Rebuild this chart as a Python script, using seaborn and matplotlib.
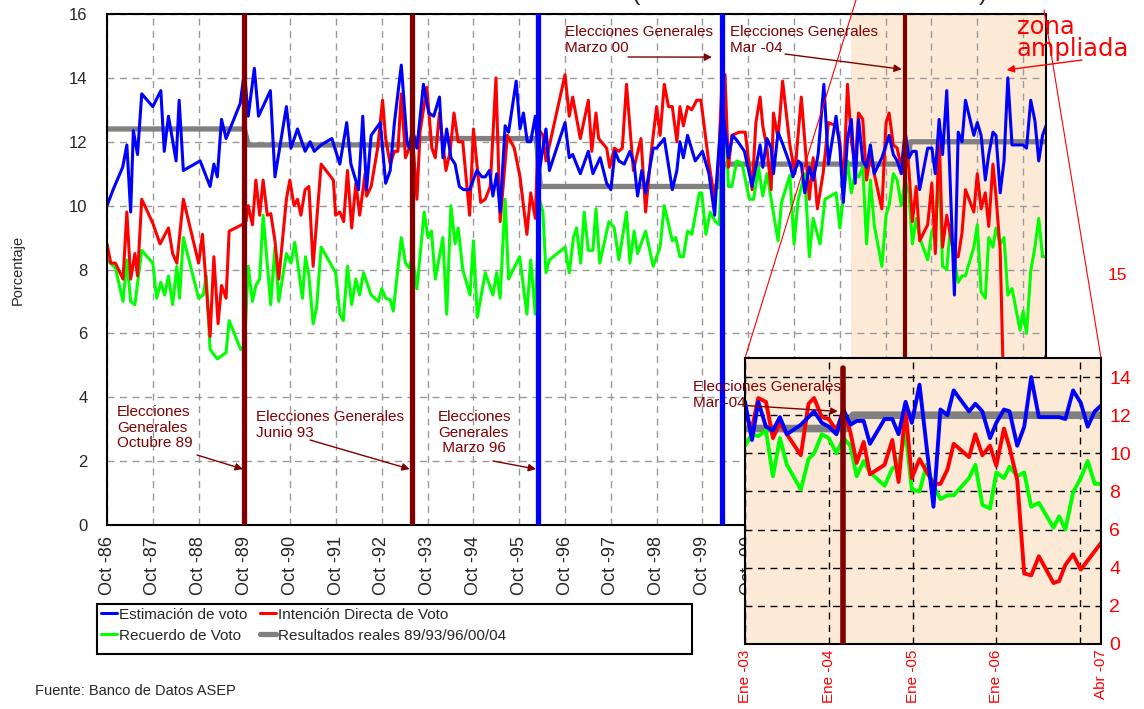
import matplotlib
matplotlib.use('Agg')
import matplotlib.pyplot as plt
from matplotlib.lines import Line2D
from matplotlib.patches import Rectangle
import seaborn as sns

# meses contados desde Oct 1986 (0) hasta Abr 2007 (246)
est_mes = [0, 1.6, 4.1, 5.2, 6.2, 6.9, 8, 9.1, 12, 14.1, 15, 16.1, 18.1, 18.9, 20, 24.4, 27, 28, 28.9, 30,
           31.2, 34.9, 36, 37, 38.6, 39.7, 42.8, 44, 47, 48.2, 49.9, 51.9, 53.2, 54.3, 56.1, 58.9, 61, 62.8,
           63.9, 65.9, 67, 68, 69.2, 71.6, 73, 74.2, 75.3, 77.1, 78.6, 79.2, 80, 81.2, 82.9, 84.3, 85.6, 87.1,
           88, 89, 90.1, 91.2, 92.3, 93.4, 95, 96.9, 98.2, 99.1, 100.2, 101.1, 102.1, 103, 104.3, 105.2, 107.2,
           108.2, 109.1, 110.1, 111, 112.2, 113.3, 115, 115.9, 120, 121.1, 122, 124, 126.1, 127.3, 129.2, 130.9,
           132, 133.1, 134.1, 135.5, 137, 138.1, 139, 140.1, 141.1, 143.1, 144, 146, 148.1, 149.3, 150.1, 151,
           152.1, 154.1, 156, 157.7, 159.2, 160, 161.2, 162.8, 163.9, 165.3, 167, 169, 171.1, 171.8, 172.9, 174,
           174.6, 175.8, 177.1, 178.9, 179.7, 181.1, 181.9, 182.8, 184, 185, 186.3, 187.8, 189, 191, 192, 192.9,
           194, 195, 196, 196.9, 198, 199, 200, 201, 203, 204.9, 206, 207, 208.1, 209.1, 210.1, 211, 212, 212.9,
           215, 216.1, 217, 218, 218.9, 220, 222, 223, 224, 224.9, 227.1, 228, 229, 230.1, 231, 232.1, 232.9,
           234, 235, 236, 237.1, 240, 240.9, 242, 243.1, 244.1, 245.1, 246]
est_val = [10.0, 10.5, 11.2, 11.9, 9.8, 12.35, 11.6, 13.5, 13.1, 13.6, 11.7, 12.8, 11.4, 13.3, 11.1, 11.4, 10.6,
           11.3, 10.9, 12.7, 12.1, 13.2, 14.2, 12.8, 14.3, 12.8, 13.6, 10.9, 13.1, 11.8, 12.4, 11.7, 12.0, 11.7,
           11.9, 12.1, 11.3, 12.6, 11.3, 10.5, 12.8, 10.5, 12.2, 12.6, 10.7, 11.1, 12.6, 14.4, 12.0, 11.8, 12.4,
           11.8, 13.8, 12.9, 12.8, 13.4, 11.5, 12.4, 11.5, 11.3, 10.6, 10.5, 10.5, 11.1, 10.9, 10.9, 11.1, 10.3,
           11.0, 9.8, 12.5, 12.3, 13.9, 12.4, 12.9, 12.0, 12.0, 12.8, 11.1, 12.4, 11.1, 12.6, 11.5, 11.6, 11.0,
           11.7, 11.0, 11.5, 10.7, 10.5, 11.7, 11.4, 11.3, 11.7, 11.3, 10.3, 11.1, 10.4, 11.8, 11.8, 12.1, 10.5,
           11.1, 12.0, 11.5, 12.2, 11.4, 11.7, 11.0, 9.7, 11.3, 13.1, 11.5, 12.2, 12.0, 11.7, 10.6, 11.9, 11.2,
           12.1, 11.8, 11.0, 12.3, 11.9, 11.3, 10.9, 11.4, 11.3, 10.4, 11.2, 10.8, 11.6, 13.8, 11.3, 12.8, 11.8,
           10.1, 12.1, 12.7, 10.7, 12.7, 11.4, 11.2, 11.9, 11.0, 11.5, 12.2, 11.6, 11.4, 11.0, 12.3, 11.5, 11.7,
           11.7, 10.5, 11.8, 11.8, 11.0, 12.7, 11.6, 13.6, 7.2, 12.3, 12.0, 13.3, 12.2, 12.6, 12.2, 10.8, 11.6,
           12.3, 12.2, 10.4, 11.4, 14.0, 11.9, 11.9, 11.8, 13.3, 12.65, 11.4, 12.2, 12.5]

int_mes = [0, 1, 2.2, 4.2, 5.2, 6.2, 7.3, 8, 9.1, 12, 13.9, 16.1, 17.2, 18.3, 20, 24, 25, 27, 28, 29.1, 30,
           31.2, 32, 35.3, 36.4, 37, 38.1, 39, 40, 40.9, 42, 42.9, 44, 45, 47, 47.9, 49, 49.9, 50.8, 51.9, 52.9,
           54, 56.1, 59.3, 59.9, 61, 62, 63, 64.1, 65.2, 66.2, 67.6, 68, 69.2, 70.9, 72.2, 73, 74.2, 75.3, 76.2,
           77.1, 78.2, 79.2, 80.3, 81.2, 82, 83.8, 85.1, 86, 87.1, 88.8, 89.9, 90.9, 92, 93.2, 95, 96, 97.9,
           99.1, 100.4, 101.9, 103, 104.9, 106.7, 108.2, 110, 111, 112.2, 113, 114.2, 115, 120, 121.1, 122, 124,
           126.1, 127, 128.1, 128.8, 130.9, 131.7, 132.9, 134.1, 135, 136.1, 137.9, 139.9, 141.1, 142.5, 144,
           144.9, 146, 147.1, 148.1, 149.3, 150.1, 151, 152.1, 153.2, 154.5, 155.6, 157.6, 159.2, 160.2, 161,
           161.9, 162.8, 163.7, 165.6, 167.2, 169, 170, 171.1, 171.8, 172.9, 174, 174.6, 175.8, 177, 178.9,
           180.2, 181.9, 184, 185, 186.1, 187.6, 189, 191, 192, 192.9, 194, 195, 196, 196.9, 198, 199, 200,
           201, 203, 204.1, 204.9, 206, 207, 208.1, 209.1, 210.1, 211, 212, 212.9, 215, 216.1, 217, 218, 218.9,
           220, 222, 223, 224, 224.9, 227.1, 228, 229, 230.1, 231, 232.1, 232.9, 234, 235, 236, 237.1, 239.2,
           240, 240.9, 242, 243.1, 246]
int_val = [8.8, 8.2, 8.2, 7.7, 9.8, 7.7, 8.5, 7.8, 10.2, 9.45, 8.8, 9.3, 8.5, 8.2, 10.2, 8.2, 9.1, 5.9, 8.4,
           6.3, 7.5, 7.1, 9.2, 9.4, 9.5, 10.0, 9.4, 10.8, 9.7, 10.8, 9.7, 9.75, 8.9, 7.7, 10.2, 10.8, 10.0, 10.2,
           9.7, 10.5, 10.6, 8.1, 11.3, 10.8, 9.7, 9.8, 9.5, 11.1, 9.3, 10.7, 9.7, 11.0, 10.3, 10.6, 11.8, 13.3,
           12.1, 11.3, 11.7, 11.7, 13.5, 11.5, 11.8, 11.7, 10.2, 12.3, 13.7, 11.8, 11.5, 12.9, 11.1, 11.7, 12.9,
           12.0, 12.0, 9.7, 12.4, 10.1, 10.2, 10.6, 14.0, 9.5, 12.2, 11.8, 10.9, 9.1, 10.4, 9.6, 12.4, 12.2, 11.4,
           14.1, 12.8, 13.4, 12.1, 13.3, 11.7, 12.9, 12.1, 11.8, 11.2, 11.8, 11.7, 11.8, 13.8, 11.1, 12.1, 9.8,
           11.6, 13.1, 12.2, 13.8, 13.1, 13.1, 12.0, 13.1, 12.5, 13.1, 13.0, 13.3, 13.3, 11.4, 10.2, 11.3, 13.6,
           14.1, 11.2, 12.2, 12.3, 12.3, 10.5, 12.6, 13.4, 12.5, 11.8, 10.5, 12.9, 12.1, 13.9, 11.9, 11.0, 13.4,
           10.2, 11.5, 9.9, 11.0, 12.6, 12.5, 12.0, 10.5, 13.8, 12.0, 11.3, 12.9, 12.7, 10.8, 11.6, 11.0, 9.9,
           12.6, 12.9, 11.9, 11.8, 11.2, 12.3, 11.1, 9.5, 10.6, 8.9, 9.4, 10.7, 8.5, 12.3, 8.7, 9.7, 8.4, 8.4,
           9.15, 10.5, 9.8, 11.0, 9.9, 10.4, 9.35, 11.3, 10.3, 8.6, 3.7, 3.6, 4.6, 3.2, 3.3, 4.15, 4.7, 3.9, 5.3]

rec_mes = [0, 2.2, 4.2, 5.2, 6.2, 7.3, 9.1, 12, 13, 14.1, 15.1, 16.1, 17.2, 18.3, 19, 20, 24, 25.2, 26, 27,
           28.9, 31.2, 32, 35, 36, 37, 38.1, 39, 40, 40.9, 42.9, 44, 45, 47, 48.2, 49.2, 51.2, 52, 52.9, 54,
           54.9, 56.1, 59.9, 61, 61.9, 63, 64.1, 65.2, 66.2, 67.2, 69.2, 71.1, 72, 73, 74.2, 75, 77.1, 78.2,
           79.2, 80, 81.2, 83.1, 84.1, 85, 86, 88, 89, 90.1, 91.2, 92, 93.2, 95.1, 96, 97, 99.1, 101.1, 102.1,
           103, 104.3, 105.2, 108.1, 110, 111, 112.2, 113.3, 114.2, 115, 115.9, 120, 121.1, 122.2, 123, 124.1,
           125, 126.1, 127.3, 128.1, 129.1, 131.5, 132.9, 134.1, 136.1, 137, 138.1, 139, 141.1, 143.1, 144.9,
           146, 148.1, 149, 150.1, 151, 152.1, 153.2, 155.2, 155.8, 156.9, 158, 159.4, 160.4, 161.8, 162.8,
           163.7, 165, 166.4, 168.3, 169.4, 170.7, 171.8, 172.9, 175.8, 176.7, 178.9, 180, 181.1, 182.8, 184,
           185, 186.8, 188.1, 191, 192, 194, 195, 196, 196.9, 198, 199, 200, 201, 203, 204.1, 204.9, 206, 207,
           208.1, 209.1, 210.1, 211, 212, 212.9, 215, 216.1, 217, 218, 218.9, 220, 221, 222, 223, 224, 224.9,
           227.1, 228, 229, 230.1, 231, 232.1, 232.9, 234, 235, 236, 237.1, 239.2, 240, 240.9, 242, 243.1,
           244.1, 245.1, 246]
rec_val = [8.3, 8.05, 7.0, 8.3, 7.0, 6.9, 8.6, 8.2, 7.1, 7.6, 7.2, 7.8, 6.9, 8.1, 7.1, 9.0, 7.1, 7.2, 7.8, 5.5,
           5.2, 5.4, 6.4, 5.5, 5.6, 8.1, 7.0, 7.5, 7.7, 9.7, 6.9, 8.7, 7.0, 8.5, 8.2, 8.85, 7.1, 8.4, 7.8, 6.3,
           6.8, 8.7, 7.9, 6.6, 6.4, 8.1, 6.9, 7.7, 7.2, 7.9, 7.2, 7.0, 7.4, 7.1, 7.05, 6.7, 9.0, 8.2, 8.05, 8.4,
           7.4, 9.8, 9.0, 9.2, 7.7, 9.0, 6.6, 10.0, 8.8, 9.3, 8.0, 7.2, 8.9, 6.5, 7.9, 7.2, 7.9, 7.1, 10.2, 7.7,
           8.4, 6.6, 8.3, 6.6, 10.2, 9.8, 7.9, 8.3, 8.7, 7.9, 9.0, 9.3, 8.2, 9.8, 8.6, 8.6, 9.9, 8.2, 9.5, 9.3,
           8.3, 9.8, 8.2, 9.2, 8.5, 9.2, 8.1, 8.7, 10.0, 8.9, 9.0, 8.4, 8.4, 9.2, 9.1, 10.4, 10.4, 9.1, 9.8, 9.5,
           9.4, 13.4, 10.6, 10.6, 11.4, 11.3, 10.2, 10.2, 11.2, 10.3, 11.0, 8.9, 10.1, 10.95, 8.8, 10.2, 11.0,
           8.4, 9.6, 8.8, 10.2, 10.4, 9.3, 11.4, 10.4, 11.0, 10.9, 11.2, 8.8, 10.8, 9.4, 8.1, 9.7, 10.0, 11.0,
           10.8, 10.0, 10.8, 10.4, 8.8, 9.6, 9.0, 8.3, 9.2, 9.4, 11.1, 8.1, 8.0, 9.4, 8.3, 7.6, 7.8, 7.8, 8.7,
           9.4, 7.3, 7.1, 9.0, 8.7, 9.3, 8.8, 9.0, 7.2, 7.4, 6.1, 6.7, 6.0, 7.95, 8.7, 9.6, 8.4, 8.4]

res_mes = [0, 36, 37, 80, 81, 112.5, 113.5, 160.5, 161.5, 209.5, 210.5, 246]
res_val = [12.4, 12.4, 11.9, 11.9, 12.1, 12.1, 10.6, 10.6, 11.3, 11.3, 12.0, 12.0]

elecciones = [36, 80, 113, 161, 209]
elec_color = ['#800000', '#800000', '#0000FF', '#0000FF', '#800000']
elec_ancho = [3.8, 3.8, 3.8, 3.8, 3.0]

anios = ['86', '87', '88', '89', '90', '91', '92', '93', '94', '95', '96', '97', '98', '99',
         '00', '01', '02', '03', '04', '05', '06']
zoom_ticks = [195, 207, 219, 231, 243, 246]
zoom_labels = ['Ene -03', 'Ene -04', 'Ene -05', 'Ene -06', '', 'Abr -07']

AZUL, ROJO, VERDE, GRIS = '#0000FF', '#FF0000', '#00FF00', '#808080'
GRANATE = '#800000'
CREMA = '#FDEAD6'

sns.set_style('white')
plt.rcParams['font.family'] = ['Liberation Sans', 'DejaVu Sans']

W, H = 1144, 709


def px(x, y):
    return (x / W, 1 - y / H)


fig = plt.figure(figsize=(W / 100, H / 100), dpi=100)

# ---- grafico principal
ax = fig.add_axes([107 / W, 1 - 525 / H, (1046 - 107) / W, (525 - 14) / H])
ax.axvspan(195, 246, color=CREMA, lw=0, zorder=0.2)
ax.grid(True, color='#9a9a9a', ls=(0, (5, 4)), lw=1)
ax.set_axisbelow(True)

sns.lineplot(x=res_mes, y=res_val, ax=ax, color=GRIS, lw=3.8, estimator=None, sort=False,
             label='Resultados reales 89/93/96/00/04', solid_capstyle='round')
sns.lineplot(x=rec_mes, y=rec_val, ax=ax, color=VERDE, lw=2.2, estimator=None, sort=False,
             label='Recuerdo de Voto')
sns.lineplot(x=int_mes, y=int_val, ax=ax, color=ROJO, lw=2.2, estimator=None, sort=False,
             label='Intención Directa de Voto')
sns.lineplot(x=est_mes, y=est_val, ax=ax, color=AZUL, lw=2.2, estimator=None, sort=False,
             label='Estimación de voto')
handles, labels = ax.get_legend_handles_labels()
if ax.get_legend() is not None:
    ax.get_legend().remove()

for m, c, w in zip(elecciones, elec_color, elec_ancho):
    ax.axvline(m, color=c, lw=w, zorder=5)

ax.set_xlim(0, 246)
ax.set_ylim(0, 16)
ax.set_yticks(range(0, 17, 2))
ax.set_xticks(range(0, 241, 12))
ax.set_xticklabels(['Oct -' + a for a in anios])
ax.tick_params(axis='x', rotation=90, length=0, labelsize=13, pad=8)
ax.tick_params(axis='y', length=0, labelsize=12, pad=14)
ax.set_xlabel('')
ax.set_ylabel('')
for s in ax.spines.values():
    s.set_visible(True)
    s.set_color('black')
    s.set_linewidth(1.5)

fig.text(18 / W, 1 - 270 / H, 'Porcentaje', rotation=90, ha='center', va='center', fontsize=10.5)

# anotaciones de elecciones
txt = dict(color=GRANATE, fontsize=11, ha='left', va='top', linespacing=1.15)
flecha = dict(arrowstyle='-|>', color=GRANATE, lw=1, mutation_scale=11, shrinkA=0, shrinkB=0)
notas = [
    ('Elecciones\nGenerales\nOctubre 89', (117, 405), (197, 455), (35.6, 1.75)),
    ('Elecciones Generales\nJunio 93', (256, 410), (310, 440), (79.3, 1.75)),
    ('Elecciones\nGenerales\n Marzo 96', (438, 410), (493, 461), (112.4, 1.75)),
    ('Elecciones Generales\nMarzo 00', (565, 25), (628, 57), (158.5, 14.65)),
    ('Elecciones Generales\nMar -04', (730, 25), (785, 54), (208.2, 14.27)),
]
for texto, pos, cola, punta in notas:
    fig.text(*px(*pos), texto, **txt)
    ax.annotate('', xy=punta, xycoords='data', xytext=px(*cola), textcoords='figure fraction',
                arrowprops=flecha, annotation_clip=False)

fig.text(*px(1017, 15), 'zona\nampliada', color=ROJO, fontsize=17.5, ha='left', va='top', linespacing=0.9,
         family='DejaVu Sans')
ax.annotate('', xy=(235.7, 14.25), xycoords='data', xytext=px(1082, 60), textcoords='figure fraction',
            arrowprops=dict(arrowstyle='-|>', color=ROJO, lw=1, mutation_scale=11, shrinkA=0, shrinkB=0),
            annotation_clip=False)

# parentesis del titulo, cortado por el borde superior como en el original
fig.text(636 / W, 1.0, '(', ha='center', va='baseline', fontsize=18)
fig.text(983 / W, 1.0, ')', ha='center', va='baseline', fontsize=18)

# lineas de la zona ampliada
fig.add_artist(Line2D([856 / W, 745 / W], [1.0, 1 - 358 / H], color=ROJO, lw=0.8, zorder=2))
fig.add_artist(Line2D([1044 / W, 1101 / W], [1 - 10 / H, 1 - 358 / H], color=ROJO, lw=0.8, zorder=2))
fig.text(*px(1117, 275), '15', color=ROJO, fontsize=12.5, ha='center', va='center')

# ---- leyenda
orden = ['Estimación de voto', 'Recuerdo de Voto', 'Intención Directa de Voto',
         'Resultados reales 89/93/96/00/04']
fig.legend([handles[labels.index(l)] for l in orden], orden,
           ncol=2, loc='upper left', bbox_to_anchor=px(97, 604), frameon=False, fontsize=11,
           handlelength=1.05, handletextpad=0.15, columnspacing=0.8, labelspacing=0.45,
           borderpad=0.25, borderaxespad=0)
fig.add_artist(Rectangle(px(97, 654), 595 / W, 50 / H, transform=fig.transFigure,
                         fill=False, ec='black', lw=1.5, zorder=4))

fig.text(*px(35, 691), 'Fuente: Banco de Datos ASEP', fontsize=10.5, ha='left', va='center')

# ---- recuadro de zona ampliada
axin = fig.add_axes([745 / W, 1 - 644 / H, 356 / W, (644 - 358) / H], zorder=3)
axin.set_facecolor(CREMA)
axin.grid(True, color='black', ls=(0, (5, 4)), lw=1)
axin.set_axisbelow(True)
sns.lineplot(x=res_mes, y=res_val, ax=axin, color=GRIS, lw=5.5, estimator=None, sort=False,
             legend=False, solid_capstyle='round')
sns.lineplot(x=rec_mes, y=rec_val, ax=axin, color=VERDE, lw=2.8, estimator=None, sort=False, legend=False)
sns.lineplot(x=int_mes, y=int_val, ax=axin, color=ROJO, lw=2.8, estimator=None, sort=False, legend=False)
sns.lineplot(x=est_mes, y=est_val, ax=axin, color=AZUL, lw=2.8, estimator=None, sort=False, legend=False)
axin.axvline(elecciones[-1], ymax=0.965, color=GRANATE, lw=4, zorder=5)
axin.set_xlim(195, 246)
axin.set_ylim(0, 15)
axin.set_yticks(range(0, 15, 2))
axin.yaxis.tick_right()
axin.set_xticks(zoom_ticks)
axin.set_xticklabels(zoom_labels)
axin.tick_params(axis='y', length=0, labelsize=14, labelcolor=ROJO, pad=6)
axin.tick_params(axis='x', length=0, labelsize=11, labelcolor=ROJO, rotation=90, pad=4)
axin.set_xlabel('')
axin.set_ylabel('')
for s in axin.spines.values():
    s.set_visible(True)
    s.set_color('black')
    s.set_linewidth(1.5)

axin.text(187.5, 13.85, 'Elecciones Generales\nMar -04', color=GRANATE, fontsize=11, ha='left', va='top',
          linespacing=1.15, clip_on=False, zorder=6)
axin.annotate('', xy=(208.3, 12.2), xytext=(195.4, 12.5),
              arrowprops=dict(arrowstyle='-|>', color=GRANATE, lw=1, mutation_scale=10, shrinkA=0, shrinkB=0),
              annotation_clip=False)

fig.savefig('out.png', dpi=100)
